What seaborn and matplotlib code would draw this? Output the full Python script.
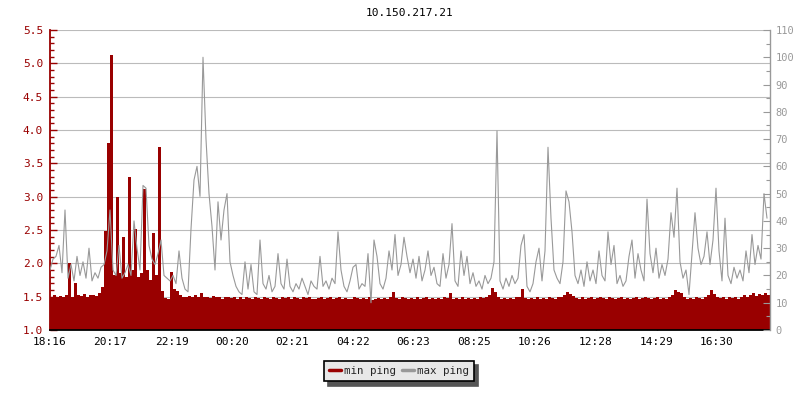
"""
Ping history for 10.150.217.21 - min ping (filled, left axis) and
max ping (line, right axis) over 24 hours.
"""

import numpy as np
import pandas as pd
import matplotlib
matplotlib.use("Agg")
import matplotlib.pyplot as plt
from matplotlib.lines import Line2D
from matplotlib.ticker import MultipleLocator
import seaborn as sns

# ── Data ───────────────────────────────────────────────────────────────────────
TITLE = "10.150.217.21"
START = "18:16"
STEP_MIN = 6  # one sample every 6 minutes
TICK_LABELS = ["18:16", "20:17", "22:19", "00:20", "02:21", "04:22",
               "06:23", "08:25", "10:26", "12:28", "14:29", "16:30"]

# min ping (ms, left axis)
MIN_PING = [
    1.50, 1.52, 1.49, 1.51, 1.50, 1.53, 2.01, 1.50, 1.70, 1.52,
    1.51, 1.54, 1.50, 1.52, 1.53, 1.51, 1.55, 1.65, 2.49, 3.80,
    5.13, 1.83, 3.00, 1.85, 2.40, 1.80, 3.30, 1.90, 2.51, 1.80,
    1.85, 3.11, 1.90, 1.75, 2.46, 1.82, 3.75, 1.58, 1.48, 1.47,
    1.87, 1.62, 1.58, 1.52, 1.49, 1.50, 1.51, 1.49, 1.52, 1.50,
    1.55, 1.49, 1.50, 1.48, 1.51, 1.49, 1.50, 1.47, 1.49, 1.50,
    1.48, 1.50, 1.47, 1.49, 1.46, 1.50, 1.48, 1.47, 1.49, 1.48,
    1.47, 1.49, 1.48, 1.46, 1.50, 1.48, 1.47, 1.49, 1.48, 1.50,
    1.47, 1.49, 1.48, 1.47, 1.50, 1.48, 1.49, 1.47, 1.46, 1.48,
    1.49, 1.47, 1.48, 1.50, 1.47, 1.48, 1.49, 1.47, 1.48, 1.46,
    1.47, 1.49, 1.48, 1.46, 1.48, 1.47, 1.49, 1.45, 1.47, 1.48,
    1.46, 1.48, 1.47, 1.49, 1.57, 1.48, 1.47, 1.49, 1.48, 1.47,
    1.48, 1.46, 1.49, 1.47, 1.48, 1.50, 1.47, 1.48, 1.46, 1.48,
    1.47, 1.49, 1.48, 1.55, 1.47, 1.48, 1.46, 1.49, 1.47, 1.48,
    1.46, 1.48, 1.47, 1.49, 1.48, 1.50, 1.52, 1.63, 1.57, 1.49,
    1.47, 1.48, 1.46, 1.48, 1.47, 1.49, 1.50, 1.62, 1.48, 1.47,
    1.48, 1.46, 1.49, 1.47, 1.48, 1.47, 1.49, 1.48, 1.46, 1.49,
    1.50, 1.53, 1.57, 1.54, 1.51, 1.48, 1.47, 1.49, 1.46, 1.48,
    1.49, 1.47, 1.48, 1.50, 1.48, 1.47, 1.49, 1.48, 1.47, 1.48,
    1.49, 1.47, 1.48, 1.46, 1.48, 1.49, 1.47, 1.48, 1.50, 1.48,
    1.47, 1.48, 1.49, 1.46, 1.48, 1.47, 1.49, 1.52, 1.60, 1.57,
    1.55, 1.49, 1.47, 1.48, 1.46, 1.49, 1.48, 1.47, 1.49, 1.52,
    1.60, 1.54, 1.50, 1.48, 1.49, 1.47, 1.50, 1.48, 1.49, 1.47,
    1.50, 1.52, 1.49, 1.53, 1.55, 1.51, 1.54, 1.52, 1.56, 1.53,
]

# max ping (ms, right axis)
MAX_PING = [
    22, 26, 27, 31, 21, 44, 19, 24, 18, 27,
    20, 25, 19, 30, 18, 21, 19, 23, 24, 29,
    44, 22, 20, 31, 19, 21, 24, 20, 40, 30,
    22, 53, 52, 31, 26, 24, 28, 33, 20, 19,
    18, 20, 17, 29, 19, 15, 14, 37, 55, 60,
    49, 100, 70, 50, 38, 22, 47, 33, 44, 50,
    25, 20, 16, 14, 13, 25, 15, 24, 14, 13,
    33, 17, 15, 20, 14, 16, 28, 17, 15, 26,
    16, 14, 17, 15, 19, 16, 13, 18, 16, 15,
    27, 16, 18, 15, 19, 17, 36, 22, 16, 14,
    18, 23, 24, 15, 17, 16, 28, 10, 33, 27,
    17, 15, 19, 29, 22, 35, 20, 24, 34, 27,
    21, 26, 19, 27, 18, 22, 29, 20, 23, 17,
    16, 28, 19, 24, 39, 18, 16, 29, 20, 27,
    17, 21, 16, 18, 15, 20, 17, 19, 25, 73,
    18, 15, 19, 16, 20, 17, 19, 31, 35, 16,
    14, 17, 25, 30, 18, 29, 67, 41, 22, 19,
    17, 25, 51, 47, 36, 20, 17, 22, 16, 25,
    18, 22, 17, 29, 20, 18, 36, 24, 31, 17,
    20, 16, 18, 27, 33, 19, 28, 22, 18, 48,
    28, 21, 30, 19, 24, 20, 26, 43, 34, 52,
    25, 19, 22, 13, 28, 43, 30, 24, 27, 36,
    24, 33, 52, 29, 18, 41, 20, 17, 23, 19,
    22, 18, 29, 21, 35, 24, 31, 26, 50, 41,
]

RED = "#990000"
GREY = "#999999"
MONO = ["DejaVu Sans Mono"]


def minutes_since_start(label):
    h, m = map(int, label.split(":"))
    h0, m0 = map(int, START.split(":"))
    return (h * 60 + m - (h0 * 60 + m0)) % 1440


def main():
    sns.set_style("white")
    plt.rcParams["font.family"] = MONO
    plt.rcParams["font.size"] = 7.5

    df = pd.DataFrame({
        "minute": np.arange(len(MIN_PING)) * STEP_MIN,
        "min_ping": MIN_PING,
        "max_ping": MAX_PING,
    })
    span = len(df) * STEP_MIN

    fig = plt.figure(figsize=(8, 4), dpi=100)
    ax = fig.add_axes([50 / 800, 70 / 400, 720 / 800, 300 / 400])
    ax2 = ax.twinx()

    # min ping as filled columns from the 1.0 baseline
    xs = np.append(df["minute"].values, span)
    ys = np.append(df["min_ping"].values, df["min_ping"].values[-1])
    ax.fill_between(xs, ys, 1.0, step="post", color=RED, linewidth=0, zorder=2)

    # max ping line on the right axis
    sns.lineplot(data=df, x="minute", y="max_ping", ax=ax2, color=GREY,
                 linewidth=0.8, estimator=None, legend=False)

    ax.set_xlim(0, span)
    ax.set_ylim(1.0, 5.5)
    ax2.set_ylim(0, 110)
    ax.set_xlabel(""); ax.set_ylabel("")
    ax2.set_xlabel(""); ax2.set_ylabel("")

    # grid on left major ticks
    ax.yaxis.set_major_locator(MultipleLocator(0.5))
    ax.yaxis.set_minor_locator(MultipleLocator(0.1))
    ax.yaxis.set_major_formatter(plt.FuncFormatter(lambda v, p: f"{v:.1f}"))
    ax.grid(axis="y", color="#bbbbbb", linewidth=0.8, zorder=0)
    ax.grid(axis="x", visible=False)
    ax.set_axisbelow(True)

    ax2.yaxis.set_major_locator(MultipleLocator(10))
    ax2.yaxis.set_minor_locator(MultipleLocator(5))
    ax2.grid(False)

    ax.set_xticks([minutes_since_start(t) for t in TICK_LABELS])
    ax.set_xticklabels(TICK_LABELS)

    # spines
    for s in ["top", "right"]:
        ax.spines[s].set_visible(False)
    for s in ["top", "left", "bottom"]:
        ax2.spines[s].set_visible(False)
    ax.spines["left"].set_color(RED)
    ax.spines["left"].set_linewidth(1.3)
    ax.spines["bottom"].set_color("black")
    ax.spines["bottom"].set_linewidth(1.3)
    ax2.spines["right"].set_color(GREY)
    ax2.spines["right"].set_linewidth(1.0)

    ax.tick_params(axis="y", which="major", direction="in", length=5, width=1,
                   color=RED, labelcolor=RED, pad=5, labelsize=8, left=True)
    ax.tick_params(axis="y", which="minor", direction="in", length=3, width=1,
                   color=RED, left=True)
    ax.tick_params(axis="x", direction="in", length=5, width=1, color="black",
                   labelcolor="black", pad=5, labelsize=8, bottom=True)
    ax2.tick_params(axis="y", which="major", direction="in", length=5, width=0.8,
                    color=GREY, labelcolor=GREY, pad=4, labelsize=7.5, right=True)
    ax2.tick_params(axis="y", which="minor", direction="in", length=3, width=0.8,
                    color=GREY, right=True)

    fig.text(410 / 800, 1 - 13 / 400, TITLE, ha="center", va="center",
             fontsize=8, color="black")

    handles = [Line2D([], [], color=RED, linewidth=2.5),
               Line2D([], [], color=GREY, linewidth=2.5)]
    leg = fig.legend(handles, ["min ping", "max ping"], loc="center",
                     bbox_to_anchor=(399 / 800, 1 - 371 / 400), ncol=2,
                     fontsize=7.8, frameon=True, fancybox=False,
                     shadow={"ox": 3, "oy": -3, "facecolor": "#555555",
                             "edgecolor": "#555555", "alpha": 1},
                     handlelength=1.1, handletextpad=0.3, columnspacing=0.5,
                     borderpad=0.5, borderaxespad=0)
    leg.get_frame().set_facecolor("#e8e8e8")
    leg.get_frame().set_edgecolor("black")
    leg.get_frame().set_linewidth(1.2)
    leg.get_frame().set_alpha(1)

    fig.savefig("out.png", dpi=100, facecolor="white")
    plt.close(fig)


if __name__ == "__main__":
    main()
